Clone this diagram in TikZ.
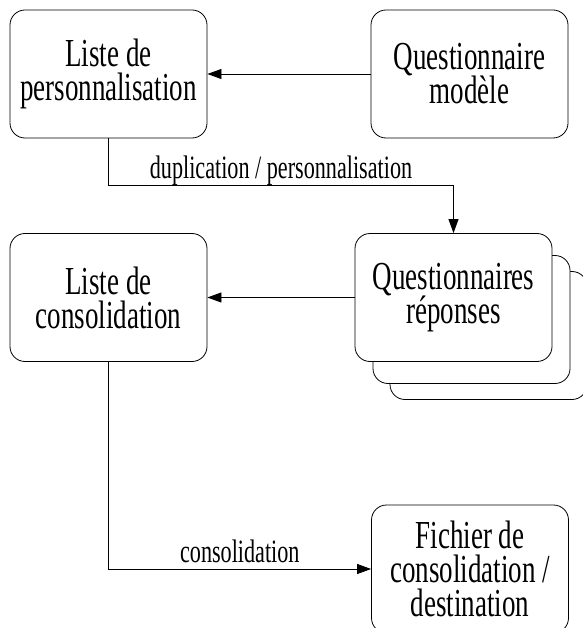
\documentclass[tikz,border=0pt]{standalone}
\usepackage{fontspec}
\setmainfont[FakeStretch=0.68]{Liberation Serif}
\usetikzlibrary{arrows.meta}
\newcommand\qboxfont{\fontsize{39.7bp}{34bp}\selectfont\lineskiplimit=-20bp\relax}
\tikzset{
  qbox/.style={draw=black, fill=white, line width=0.8bp, rounded corners=15bp,
    minimum width=197bp, minimum height=128bp, inner sep=0pt, align=center,
    font=\qboxfont, execute at begin node={\rule{0pt}{36bp}}},
  qlink/.style={line width=0.8bp, draw=black, -{Triangle[length=14bp,width=10bp]}},
  qlabel/.style={font=\fontsize{32.6bp}{36bp}\selectfont, anchor=base,
    yshift=7bp, inner sep=0pt},
}
\begin{document}
\begin{tikzpicture}[x=1bp, y=1bp]
\useasboundingbox (0,0) rectangle (583,-628);
\clip (0,0) rectangle (583,-628);
\node[qbox] (perso) at (108.5,-74) {Liste de\\personnalisation};
\node[qbox] (modele) at (469.5,-74) {Questionnaire\\modèle};
\node[qbox] (consol) at (108.5,-297.5) {Liste de\\consolidation};
\node[qbox] (rep3) at (488.5,-335.5) {};
\node[qbox] (rep2) at (471.5,-319.5) {};
\node[qbox] (rep) at (453.5,-297.5) {Questionnaires\\réponses};
\node[qbox] (fichier) at (470,-569) {Fichier de\\consolidation /\\destination};
\draw[qlink] (modele) -- (perso);
\draw[qlink] (perso.south) -- ++(0,-47) -| node[qlabel, pos=0.25] {duplication / personnalisation} (rep.north);
\draw[qlink] (rep) -- (consol);
\draw[qlink] (consol.south) |- node[qlabel, pos=0.75] {consolidation} (fichier.west);
\end{tikzpicture}
\end{document}
